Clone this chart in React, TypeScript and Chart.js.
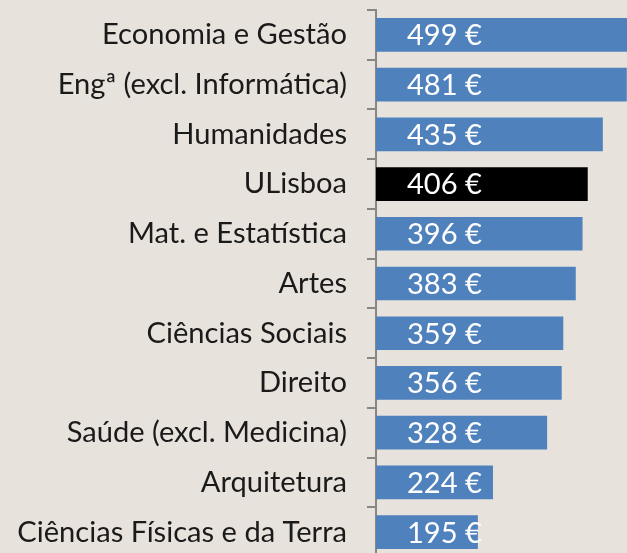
import React, { useEffect, useRef } from "react";
import { Chart, registerables } from "chart.js";

Chart.register(...registerables);

const categories = [
  "Economia e Gestão",
  "Engª (excl. Informática)",
  "Humanidades",
  "ULisboa",
  "Mat. e Estatística",
  "Artes",
  "Ciências Sociais",
  "Direito",
  "Saúde (excl. Medicina)",
  "Arquitetura",
  "Ciências Físicas e da Terra",
];
const values = [499, 481, 435, 406, 396, 383, 359, 356, 328, 224, 195];
const highlight = "ULisboa";

const FONT_FAMILY = "Lato, 'Liberation Sans', sans-serif";
const BG = "#e7e2dc";
const BLUE = "#4f81bd";

function fitFontSize(): number {
  const c = document.createElement("canvas");
  const ctx = c.getContext("2d")!;
  ctx.font = `100px ${FONT_FAMILY}`;
  const w = ctx.measureText("Ciências Físicas e da Terra").width;
  return Math.round((330 * 100) / w * 10) / 10;
}

export default function App() {
  const ref = useRef<HTMLCanvasElement | null>(null);
  useEffect(() => {
    if (!ref.current) return;
    const fs = fitFontSize();
    const labelPlugin = {
      id: "valueLabels",
      afterDatasetsDraw(chart: any) {
        const ctx = chart.ctx;
        const meta = chart.getDatasetMeta(0);
        ctx.save();
        ctx.font = `${fs}px ${FONT_FAMILY}`;
        ctx.fillStyle = "#ffffff";
        ctx.textAlign = "left";
        ctx.textBaseline = "middle";
        meta.data.forEach((el: any, i: number) => {
          ctx.fillText(`${values[i]} €`, chart.chartArea.left + 31, el.y + 1);
        });
        ctx.restore();
      },
    };
    const bgPlugin = {
      id: "bg",
      beforeDraw(chart: any) {
        const ctx = chart.ctx;
        ctx.save();
        ctx.fillStyle = BG;
        ctx.fillRect(0, 0, chart.width, chart.height);
        ctx.restore();
      },
    };
    const chart = new Chart(ref.current, {
      type: "bar",
      data: {
        labels: categories,
        datasets: [
          {
            data: values,
            backgroundColor: categories.map((c) => (c === highlight ? "#000000" : BLUE)),
            borderWidth: 0,
            barThickness: 33,
          },
        ],
      },
      options: {
        indexAxis: "y",
        animation: false,
        responsive: false,
        devicePixelRatio: 1,
        layout: { padding: { top: 10, left: 0, right: 0, bottom: 0 } },
        plugins: { legend: { display: false }, tooltip: { enabled: false } },
        scales: {
          x: { display: false, min: 0, max: 507 },
          y: {
            afterFit: (s: any) => {
              s.width = 376;
              s.paddingTop = 0;
              s.paddingBottom = 0;
            },
            grid: {
              display: true,
              drawOnChartArea: false,
              offset: true,
              tickLength: 9,
              color: "#868686",
              lineWidth: 2,
            },
            border: { display: true, color: "#868686", width: 2 },
            ticks: {
              color: "#1a1a1a",
              padding: 20,
              font: { family: FONT_FAMILY, size: fs },
            },
          },
        },
      },
      plugins: [bgPlugin, labelPlugin],
    });
    return () => chart.destroy();
  }, []);
  return (
    <div
      style={{
        position: "fixed",
        left: 0,
        top: 0,
        width: 627,
        height: 553,
        overflow: "hidden",
        background: BG,
      }}
    >
      <canvas ref={ref} width={640} height={557} style={{ width: 640, height: 557, display: "block" }} />
    </div>
  );
}
